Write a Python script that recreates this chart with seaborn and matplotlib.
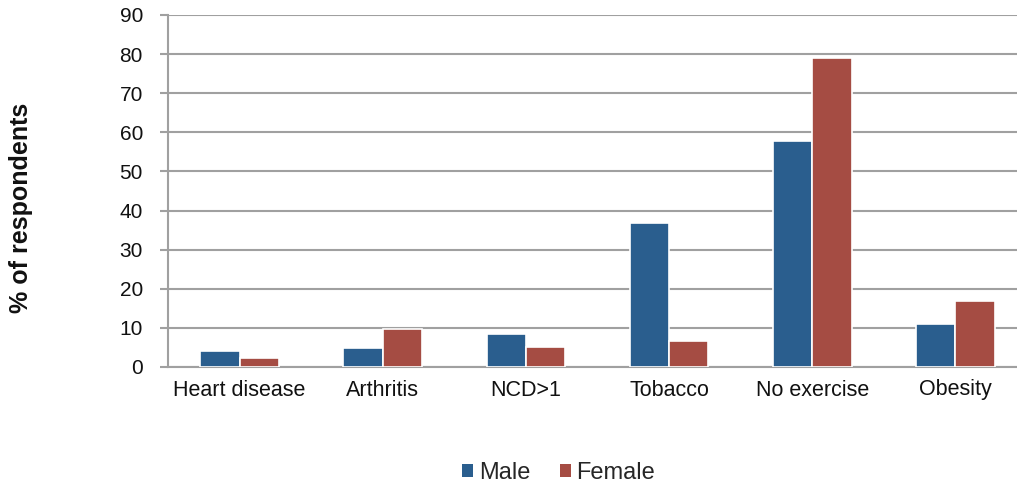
import matplotlib
matplotlib.use("Agg")
import matplotlib.pyplot as plt
import seaborn as sns
import pandas as pd
import numpy as np

# Survey results by sex
categories = ["Heart disease", "Arthritis", "NCD>1", "Tobacco", "No exercise", "Obesity"]
male = [4.1, 4.8, 8.4, 36.7, 57.9, 11.0]
female = [2.4, 9.7, 5.0, 6.7, 78.9, 17.0]
groups = ["Male", "Female"]
colors = ["#2A5E8E", "#A54C43"]
y_ticks = [0, 10, 20, 30, 40, 50, 60, 70, 80, 90]

df = pd.DataFrame({
    "category": categories * 2,
    "value": male + female,
    "sex": [groups[0]] * len(categories) + [groups[1]] * len(categories),
})

sns.set_theme(style="white")
plt.rcParams["font.family"] = ["Liberation Sans", "DejaVu Sans"]

fig = plt.figure(figsize=(10.17, 4.86), dpi=100)
# plot area runs slightly past the right edge of the canvas
ax = fig.add_axes([168 / 1017, 1 - 367 / 486, 859 / 1017, 352 / 486])

sns.barplot(data=df, x="category", y="value", hue="sex", order=categories,
            hue_order=groups, palette=colors, width=0.55, saturation=1,
            edgecolor="white", linewidth=1.2, ax=ax, zorder=3)

ax.set_ylim(0, 90)
ax.set_xlim(-0.5, len(categories) - 0.5)
ax.set_yticks(y_ticks)
ax.set_yticklabels([str(t) for t in y_ticks], fontsize=15, color="#111111")
ax.yaxis.grid(True, color="#A0A0A0", linewidth=1.5, zorder=0)
ax.set_axisbelow(True)

# Category labels centered, tick marks between categories
ax.set_xticks(np.arange(len(categories)))
ax.set_xticklabels(categories, fontsize=15.5, color="#111111")
ax.tick_params(axis="x", which="major", length=0, pad=9)
ax.set_xticks(np.arange(len(categories) + 1) - 0.5, minor=True)
ax.tick_params(axis="x", which="minor", length=6, width=1.5, color="#A0A0A0", direction="out")
ax.tick_params(axis="y", length=6, width=1.5, color="#A0A0A0", direction="out", pad=12, left=True)

for side in ["top", "right"]:
    ax.spines[side].set_visible(False)
for side in ["left", "bottom"]:
    ax.spines[side].set_color("#A0A0A0")
    ax.spines[side].set_linewidth(1.5)

ax.set_xlabel("")
ax.set_ylabel("% of respondents", fontsize=18, fontweight="bold", color="#111111")
ax.yaxis.set_label_coords((33 - 168) / 859, (367 - 207.5) / 352)

leg = ax.legend(loc="center", bbox_to_anchor=(0.455, -0.3), ncol=2, frameon=False,
                fontsize=17, handlelength=0.45, handleheight=0.45, handletextpad=0.25,
                columnspacing=1.25)
for h in leg.legend_handles:
    h.set_edgecolor("none")

fig.savefig("out.png", dpi=100)
